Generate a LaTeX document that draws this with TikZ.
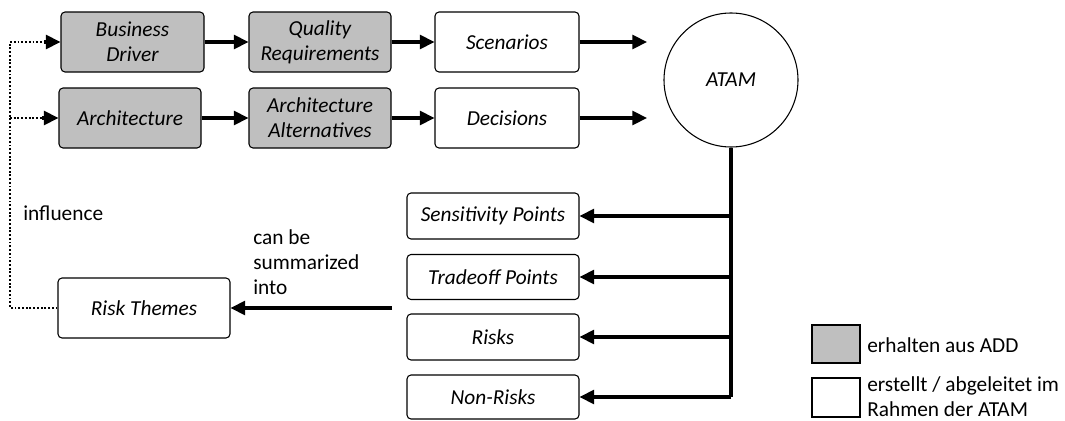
\documentclass[tikz,border=0pt]{standalone}
\usepackage{fontspec}
\setmainfont{Carlito}
\usetikzlibrary{arrows.meta}
\begin{document}
\begin{tikzpicture}[x=0.75pt,y=-0.75pt,
  every node/.style={font=\fontsize{16}{18.8}\selectfont},
  box/.style={draw=black, line width=0.8pt, rounded corners=3pt, inner sep=0pt,
    align=center, font=\fontsize{16}{18.8}\selectfont\itshape},
  given/.style={box, fill=gray!50},
  made/.style={box, fill=white},
  tip/.style={-{Triangle[length=11pt,width=10.5pt]}},
  flow/.style={line width=2.3pt, tip},
  feed/.style={line width=2.3pt},
  dotline/.style={line width=2.2pt, dash pattern=on 1.4pt off 1.4pt},
  lbl/.style={anchor=west, align=left, inner sep=0pt}
]
\useasboundingbox (0,0) rectangle (1065,421);

% upper rows: inputs
\node[given, minimum width=143*0.75pt, minimum height=60*0.75pt] (bd) at (132.5,42) {Business\\Driver};
\node[given, minimum width=142*0.75pt, minimum height=60*0.75pt] (qr) at (320,42) {Quality\\Requirements};
\node[made,  minimum width=144*0.75pt, minimum height=60*0.75pt] (sc) at (507,42) {Scenarios};
\node[given, minimum width=142*0.75pt, minimum height=60*0.75pt] (ar) at (130,118) {Architecture};
\node[given, minimum width=142*0.75pt, minimum height=60*0.75pt] (aa) at (320,118) {Architecture\\Alternatives};
\node[made,  minimum width=144*0.75pt, minimum height=60*0.75pt] (de) at (507,118) {Decisions};

% the method
\node[circle, draw=black, line width=0.8pt, minimum size=134*0.75pt, inner sep=0pt,
  font=\fontsize{16}{18.8}\selectfont\itshape] (atam) at (731,80) {ATAM};

% outputs
\node[made, minimum width=172*0.75pt, minimum height=46*0.75pt] (sp) at (493,216) {Sensitivity Points};
\node[made, minimum width=172*0.75pt, minimum height=45*0.75pt] (tp) at (493,277) {Tradeoff Points};
\node[made, minimum width=172*0.75pt, minimum height=46*0.75pt] (ri) at (493,337) {Risks};
\node[made, minimum width=172*0.75pt, minimum height=44*0.75pt] (nr) at (493,397) {Non-Risks};
\node[made, minimum width=172*0.75pt, minimum height=60*0.75pt] (rt) at (144,308) {Risk Themes};

% free ends and corners
\coordinate (scin) at (647,42);
\coordinate (dein) at (647,118);
\coordinate (sumstart) at (392,308);
\coordinate (loopbot) at (10,308);
\coordinate (looptop) at (10,42);
\coordinate (loopmid) at (10,118);
\coordinate (bdhead) at (44,42);
\coordinate (arhead) at (42,118);

% flows
\draw[flow] (bd) -- (qr);
\draw[flow] (qr) -- (sc);
\draw[flow] (sc) -- (scin);
\draw[flow] (ar) -- (aa);
\draw[flow] (aa) -- (de);
\draw[flow] (de) -- (dein);

\draw[feed] (atam.south) -- (atam.south |- nr.east);
\draw[flow] (atam.south |- sp.east) -- (sp.east);
\draw[flow] (atam.south |- tp.east) -- (tp.east);
\draw[flow] (atam.south |- ri.east) -- (ri.east);
\draw[flow] (atam.south |- nr.east) -- (nr.east);

\draw[flow] (sumstart) -- (rt.east);

% influence loop: dotted lines with solid heads
\draw[dotline] (rt.west) -- (loopbot) -- (looptop) -- (bdhead);
\draw[dotline] (loopmid) -- (arhead);
\draw[flow] (bdhead) -- (bd.west);
\draw[flow] (arhead) -- (ar.west);

% labels
\node[lbl] (infl) at (23,213) {influence};
\node[lbl] (summ) at (253,262) {can be\\summarized\\into};

% legend
\node[given, rounded corners=0pt, minimum width=48*0.75pt, minimum height=38*0.75pt] (lg1) at (836,344) {};
\node[made, rounded corners=0pt, minimum width=48*0.75pt, minimum height=39*0.75pt] (lg2) at (836,397.5) {};
\node[lbl] (lt1) at (867,345) {erhalten aus ADD};
\node[lbl] (lt2) at (867,396.5) {erstellt / abgeleitet im\\Rahmen der ATAM};
\end{tikzpicture}
\end{document}
